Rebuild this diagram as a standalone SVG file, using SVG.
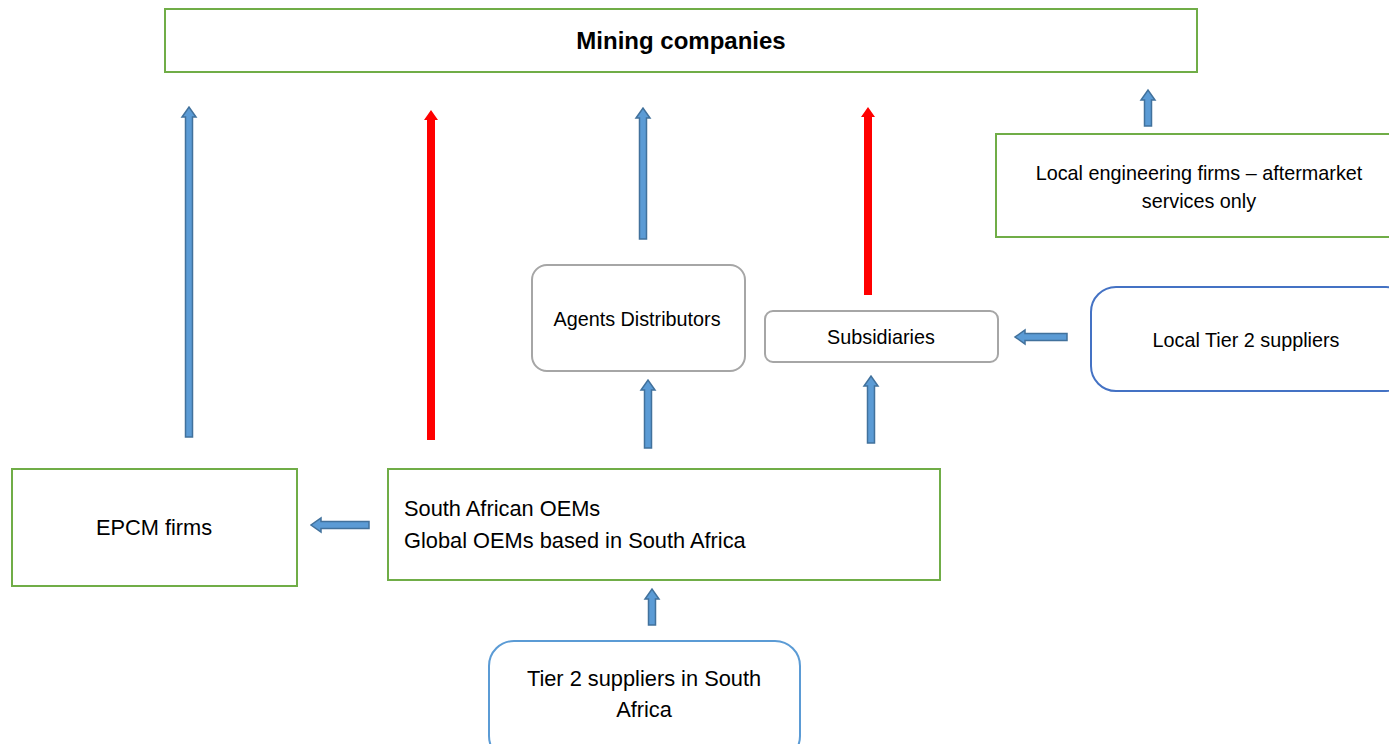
<svg xmlns="http://www.w3.org/2000/svg" width="1389" height="744" viewBox="0 0 1389 744">
<style>
.g{fill:#fff;stroke:#70ad47;stroke-width:2}
.gr{fill:#fff;stroke:#a6a6a6;stroke-width:2}
.b{fill:#fff;stroke:#4472c4;stroke-width:2}
.lb{fill:#fff;stroke:#5b9bd5;stroke-width:2}
.t{font-family:"Liberation Sans",Arial,sans-serif;font-size:19.8px;fill:#000}
.l{font-size:21.8px}
.c{text-anchor:middle}
.ba{fill:#5b9bd5;stroke:#41719c;stroke-width:1.5}
.ra{fill:#ff0000;stroke:none}
</style>
<rect width="1389" height="744" fill="#fff"/>
<g id="mining">
<rect class="g" x="165" y="9" width="1032" height="63"/>
<text class="t c" x="681" y="49" style="font-weight:bold;font-size:24px">Mining companies</text>
</g>
<g id="local-eng">
<rect class="g" x="996" y="134" width="400" height="103"/>
<text class="t c" x="1199" y="180">Local engineering firms – aftermarket</text>
<text class="t c" x="1199" y="208">services only</text>
</g>
<g id="agents">
<rect class="gr" x="532" y="265" width="213" height="106" rx="15"/>
<text class="t c" x="637" y="326">Agents Distributors</text>
</g>
<g id="subsidiaries">
<rect class="gr" x="765" y="311" width="233" height="51" rx="8"/>
<text class="t c" x="881" y="344">Subsidiaries</text>
</g>
<g id="local-tier2">
<rect class="b" x="1091" y="287" width="320" height="104" rx="25"/>
<text class="t c" x="1246" y="347">Local Tier 2 suppliers</text>
</g>
<g id="epcm">
<rect class="g" x="12" y="469" width="285" height="117"/>
<text class="t l c" x="154" y="535">EPCM firms</text>
</g>
<g id="oems">
<rect class="g" x="388" y="469" width="552" height="111"/>
<text class="t l" x="404" y="516">South African OEMs</text>
<text class="t l" x="404" y="548">Global OEMs based in South Africa</text>
</g>
<g id="tier2">
<rect class="lb" x="489" y="641" width="311" height="120" rx="25"/>
<text class="t l c" x="644" y="686">Tier 2 suppliers in South</text>
<text class="t l c" x="644" y="717">Africa</text>
</g>
<g id="connectors">
<path class="ba" d="M185.5,437 V117 H182 L189,107 L196,117 H192.5 V437 Z"/>
<path class="ra" d="M427,440 V120 H424 L431,110 L438,120 H435 V440 Z"/>
<path class="ba" d="M639.5,239 V118 H636 L643,108 L650,118 H646.5 V239 Z"/>
<path class="ra" d="M864,295 V117 H861 L868,107 L875,117 H872 V295 Z"/>
<path class="ba" d="M1144.5,126 V100 H1141 L1148,90 L1155,100 H1151.5 V126 Z"/>
<path class="ba" d="M644.5,448 V390 H641 L648,380 L655,390 H651.5 V448 Z"/>
<path class="ba" d="M867.5,443 V386 H864 L871,376 L878,386 H874.5 V443 Z"/>
<path class="ba" d="M648.5,625 V599 H645 L652,589 L659,599 H655.5 V625 Z"/>
<path class="ba" d="M1067,333.5 H1025 V330 L1015,337 L1025,344 V340.5 H1067 Z"/>
<path class="ba" d="M369,521.5 H321 V518 L311,525 L321,532 V528.5 H369 Z"/>
</g>
</svg>
